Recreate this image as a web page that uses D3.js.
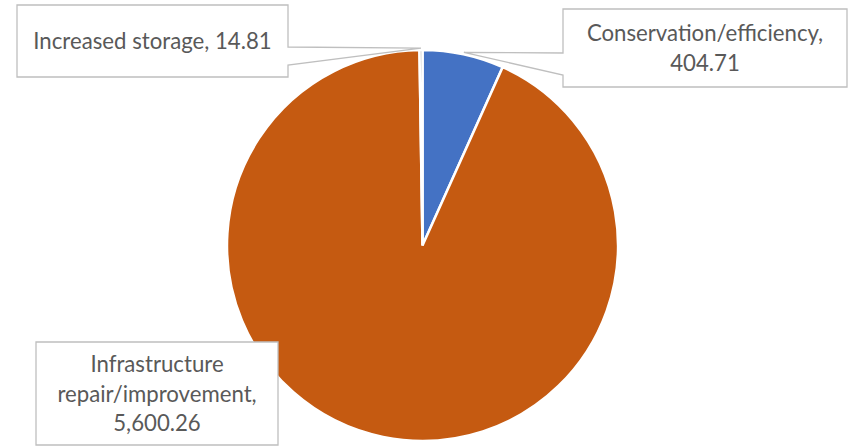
<!DOCTYPE html>
<html>
<head>
<meta charset="utf-8">
<script src="https://cdn.jsdelivr.net/npm/d3@7"></script>
<style>
  body { margin: 0; background: #fff; }
</style>
</head>
<body>
<div id="chart"></div>
<script>
// data
var categories = ["Conservation/efficiency", "Infrastructure repair/improvement", "Increased storage"];
var values = [404.71, 5600.26, 14.81];
var labelLines = [
    ["Conservation/efficiency,", "404.71"],
    ["Infrastructure", "repair/improvement,", "5,600.26"],
    ["Increased storage, 14.81"]
];
var colors = ["#4472C4", "#C55A11", "#A5A5A5"];

var width = 862;
var height = 447;
var cx = 422.5, cy = 245.5, radius = 195.5;
var fontSize = 22.2, lineH = 29.3;

// callout boxes (x, y, w, h) and where the pointer leaves the box
var boxes = [
    { x: 563, y: 9, w: 284, h: 78, side: "left", b0: 53, b1: 75 },
    { x: 36, y: 342, w: 242, h: 103, side: null },
    { x: 17, y: 5, w: 271, h: 72, side: "right", b0: 47, b1: 65 }
];

var svg = d3.select("#chart").append("svg")
    .attr("width", width)
    .attr("height", height);

var pie = d3.pie().sort(null).value(function (d) { return d; });
var arcs = pie(values);
var arc = d3.arc().innerRadius(0).outerRadius(radius);

var g = svg.append("g").attr("transform", "translate(" + cx + "," + cy + ")");

g.selectAll("path")
    .data(arcs)
    .enter().append("path")
    .attr("d", arc)
    .style("fill", function (d, i) { return colors[i]; })
    .style("stroke", "#fff")
    .style("stroke-width", 2.5);

// point on the rim where each callout points to
function tip(d) {
    var a = (d.startAngle + d.endAngle) / 2;
    var r = radius * 1.01;
    return [cx + r * Math.sin(a), cy - r * Math.cos(a)];
}

function calloutPath(b, p) {
    var x0 = b.x, y0 = b.y, x1 = b.x + b.w, y1 = b.y + b.h;
    if (b.side === "left") {
        return "M" + x0 + "," + y0 + "L" + x1 + "," + y0 + "L" + x1 + "," + y1 +
            "L" + x0 + "," + y1 + "L" + x0 + "," + b.b1 + "L" + p[0] + "," + p[1] +
            "L" + x0 + "," + b.b0 + "Z";
    }
    if (b.side === "right") {
        return "M" + x0 + "," + y0 + "L" + x1 + "," + y0 + "L" + x1 + "," + b.b0 +
            "L" + p[0] + "," + p[1] + "L" + x1 + "," + b.b1 + "L" + x1 + "," + y1 +
            "L" + x0 + "," + y1 + "Z";
    }
    return "M" + x0 + "," + y0 + "H" + x1 + "V" + y1 + "H" + x0 + "Z";
}

var labels = svg.selectAll("g.label")
    .data(arcs)
    .enter().append("g")
    .attr("class", "label");

labels.append("path")
    .attr("d", function (d, i) { return calloutPath(boxes[i], tip(d)); })
    .style("fill", "#fff")
    .style("stroke", "#BFBFBF")
    .style("stroke-width", 1.3);

labels.each(function (d, i) {
    var b = boxes[i];
    var lines = labelLines[i];
    var mid = b.y + b.h / 2;
    d3.select(this).selectAll("text")
        .data(lines)
        .enter().append("text")
        .attr("x", b.x + b.w / 2)
        .attr("y", function (t, j) { return mid + (j - (lines.length - 1) / 2) * lineH + 8; })
        .attr("text-anchor", "middle")
        .style("font-family", "Lato, 'Open Sans', sans-serif")
        .style("font-size", fontSize + "px")
        .style("fill", "#595959")
        .text(function (t) { return t; });
});
</script>
</body>
</html>
